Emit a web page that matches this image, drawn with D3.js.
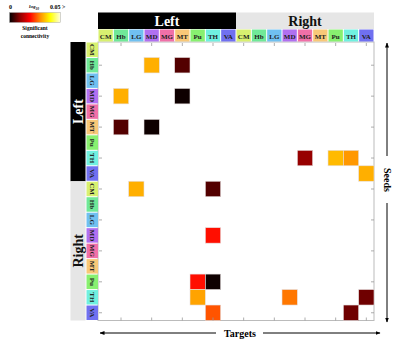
<!DOCTYPE html>
<html>
<head>
<meta charset="utf-8">
<script src="https://d3js.org/d3.v7.min.js"></script>
<style>
  body { margin: 0; background: #fff; }
  text { font-family: "Liberation Serif", "DejaVu Serif", serif; font-weight: bold; }
</style>
</head>
<body>
<div id="chart"></div>
<script>
// regions and hemispheres
var regions = ["CM", "Hb", "LG", "MD", "MG", "MT", "Pu", "TH", "VA"];
var regionColors = ["#d8f070", "#70e898", "#70c0f0", "#b070f0", "#f070a8", "#f8c878", "#88f070", "#70f0e0", "#7070f0"];
var hemis = ["Left", "Right"];

// significant connections (seed -> target, p value)
var seeds   = ["L-Hb", "L-Hb", "L-MD", "L-MD", "L-MT", "L-MT", "L-TH", "L-TH", "L-TH", "L-VA",
               "R-CM", "R-CM", "R-MD", "R-Pu", "R-Pu", "R-TH", "R-TH", "R-TH", "R-VA", "R-VA"];
var targets = ["L-MD", "L-MT", "L-Hb", "L-MT", "L-Hb", "L-MD", "R-MG", "R-Pu", "R-TH", "R-VA",
               "L-LG", "L-TH", "L-TH", "L-Pu", "L-TH", "L-Pu", "R-MD", "R-VA", "L-TH", "R-TH"];
var pvals   = [0.033, 0.006, 0.033, 0.001, 0.006, 0.001, 0.011, 0.034, 0.031, 0.033,
               0.033, 0.006, 0.021, 0.021, 0.001, 0.032, 0.0285, 0.008, 0.026, 0.008];

var legendStops = [0, 0.01, 0.02, 0.03, 0.04, 0.05];
var legendColors = ["#000000", "#8b0000", "#ff0000", "#ff8c00", "#ffff00", "#ffffe0"];

var svgWidth = 400, svgHeight = 345;
var margin = { top: 42, right: 26, bottom: 24, left: 98 };
var width = svgWidth - margin.left - margin.right;
var height = svgHeight - margin.top - margin.bottom - 0.5;

var svg = d3.select("#chart").append("svg")
  .attr("width", svgWidth)
  .attr("height", svgHeight);

var keys = [];
hemis.forEach(function(h) {
  regions.forEach(function(r) { keys.push(h[0] + "-" + r); });
});

var x = d3.scaleBand().domain(keys).range([margin.left, margin.left + width]);
var y = d3.scaleBand().domain(keys).range([margin.top, margin.top + height]);
var color = d3.scaleLinear().domain(legendStops).range(legendColors);
var regionColor = d3.scaleOrdinal().domain(regions).range(regionColors);

var cells = seeds.map(function(s, i) { return { seed: s, target: targets[i], p: pvals[i] }; });

// frame
svg.append("rect")
  .attr("x", margin.left).attr("y", margin.top)
  .attr("width", width).attr("height", height)
  .attr("fill", "none").attr("stroke", "#bbb").attr("stroke-width", 1);

// cells
svg.selectAll("rect.cell")
  .data(cells)
  .enter()
  .append("rect")
  .attr("class", "cell")
  .attr("x", d => x(d.target))
  .attr("y", d => y(d.seed))
  .attr("width", x.bandwidth())
  .attr("height", y.bandwidth())
  .attr("fill", d => color(d.p))
  .attr("stroke", "#e6e0e0")
  .attr("stroke-width", 0.6);

// inward ticks at every second position
var tickKeys = keys.filter((k, i) => i % 2 === 1);
var tickG = svg.append("g").attr("stroke", "#999").attr("stroke-width", 0.8);
tickKeys.forEach(function(k) {
  var cx = x(k) + x.bandwidth() / 2, cy = y(k) + y.bandwidth() / 2;
  tickG.append("line").attr("x1", cx).attr("x2", cx).attr("y1", margin.top + 1).attr("y2", margin.top + 4);
  tickG.append("line").attr("x1", cx).attr("x2", cx).attr("y1", margin.top + height - 3).attr("y2", margin.top + height);
  tickG.append("line").attr("y1", cy).attr("y2", cy).attr("x1", margin.left + 1).attr("x2", margin.left + 4);
  tickG.append("line").attr("y1", cy).attr("y2", cy).attr("x1", margin.left + width - 3).attr("x2", margin.left + width);
});

// top hemisphere headers
hemis.forEach(function(h, i) {
  var x0 = x(h[0] + "-CM"), x1 = x(h[0] + "-VA") + x.bandwidth();
  svg.append("rect")
    .attr("x", x0).attr("y", 12.5).attr("width", x1 - x0).attr("height", 16.5)
    .attr("fill", i === 0 ? "#000" : "#e6e6e6");
  svg.append("text")
    .attr("x", (x0 + x1) / 2).attr("y", 25.5)
    .attr("text-anchor", "middle")
    .attr("font-size", 14)
    .attr("fill", i === 0 ? "#fff" : "#111")
    .text(h);

  var y0 = y(h[0] + "-CM"), y1 = y(h[0] + "-VA") + y.bandwidth();
  svg.append("rect")
    .attr("x", 70.5).attr("y", y0).attr("width", 15).attr("height", y1 - y0)
    .attr("fill", i === 0 ? "#000" : "#e6e6e6");
  svg.append("text")
    .attr("transform", `translate(83, ${(y0 + y1) / 2}) rotate(-90)`)
    .attr("text-anchor", "middle")
    .attr("font-size", 14)
    .attr("fill", i === 0 ? "#fff" : "#111")
    .text(h);
});

// column labels
svg.selectAll("g.collab")
  .data(keys)
  .enter()
  .append("g")
  .attr("class", "collab")
  .each(function(k) {
    var g = d3.select(this), r = k.slice(2);
    g.append("rect")
      .attr("x", x(k) + 0.5).attr("y", 29.5)
      .attr("width", x.bandwidth() - 1).attr("height", 12)
      .attr("fill", regionColor(r));
    g.append("text")
      .attr("x", x(k) + x.bandwidth() / 2).attr("y", 38.5)
      .attr("text-anchor", "middle")
      .attr("font-size", 7)
      .attr("fill", "#222")
      .text(r);
  });

// row labels
svg.selectAll("g.rowlab")
  .data(keys)
  .enter()
  .append("g")
  .attr("class", "rowlab")
  .each(function(k) {
    var g = d3.select(this), r = k.slice(2);
    g.append("rect")
      .attr("x", 86.5).attr("y", y(k) + 0.5)
      .attr("width", 11.5).attr("height", y.bandwidth() - 1)
      .attr("fill", regionColor(r));
    g.append("text")
      .attr("transform", `translate(89.5, ${y(k) + y.bandwidth() / 2}) rotate(90)`)
      .attr("text-anchor", "middle")
      .attr("font-size", 7)
      .attr("fill", "#222")
      .text(r);
  });

// axis titles with arrows
var defs = svg.append("defs");
defs.append("marker")
  .attr("id", "arrow")
  .attr("viewBox", "0 0 10 10")
  .attr("refX", 9).attr("refY", 5)
  .attr("markerWidth", 5).attr("markerHeight", 5)
  .attr("orient", "auto-start-reverse")
  .append("path").attr("d", "M0,1 L10,5 L0,9 Z").attr("fill", "#000");

var ay = 333;
svg.append("line").attr("x1", 100).attr("x2", 216).attr("y1", ay).attr("y2", ay)
  .attr("stroke", "#000").attr("stroke-width", 1).attr("marker-start", "url(#arrow)");
svg.append("line").attr("x1", 263).attr("x2", 380).attr("y1", ay).attr("y2", ay)
  .attr("stroke", "#000").attr("stroke-width", 1).attr("marker-end", "url(#arrow)");
svg.append("text")
  .attr("x", 240).attr("y", ay + 3.5)
  .attr("text-anchor", "middle").attr("font-size", 10)
  .text("Targets");

var ax = 387;
svg.append("line").attr("x1", ax).attr("x2", ax).attr("y1", 43).attr("y2", 156)
  .attr("stroke", "#000").attr("stroke-width", 1).attr("marker-start", "url(#arrow)");
svg.append("line").attr("x1", ax).attr("x2", ax).attr("y1", 203).attr("y2", 322)
  .attr("stroke", "#000").attr("stroke-width", 1).attr("marker-end", "url(#arrow)");
svg.append("text")
  .attr("transform", `translate(${ax - 3.5}, 180) rotate(90)`)
  .attr("text-anchor", "middle").attr("font-size", 10)
  .text("Seeds");

// colour legend
var grad = defs.append("linearGradient").attr("id", "legendGrad");
legendStops.forEach(function(s, i) {
  grad.append("stop")
    .attr("offset", (s / 0.05 * 100) + "%")
    .attr("stop-color", legendColors[i]);
});
svg.append("rect")
  .attr("x", 9.5).attr("y", 12.5).attr("width", 51).attr("height", 10)
  .attr("fill", "url(#legendGrad)")
  .attr("stroke", "#aaa").attr("stroke-width", 0.5);
svg.append("text").attr("x", 9).attr("y", 8.5).attr("font-size", 6).text("0");
var lt = svg.append("text").attr("x", 29).attr("y", 8).attr("font-size", 5).attr("font-style", "italic").attr("font-weight", "normal");
lt.append("tspan").text("log");
lt.append("tspan").attr("dy", 1.5).attr("font-size", 3.5).text("10");
svg.append("text").attr("x", 50).attr("y", 8.5).attr("font-size", 6).text("0.05 >");
svg.append("text").attr("x", 35).attr("y", 30).attr("text-anchor", "middle").attr("font-size", 5.5).text("Significant");
svg.append("text").attr("x", 35).attr("y", 38).attr("text-anchor", "middle").attr("font-size", 5.5).text("connectivity");
</script>
</body>
</html>
